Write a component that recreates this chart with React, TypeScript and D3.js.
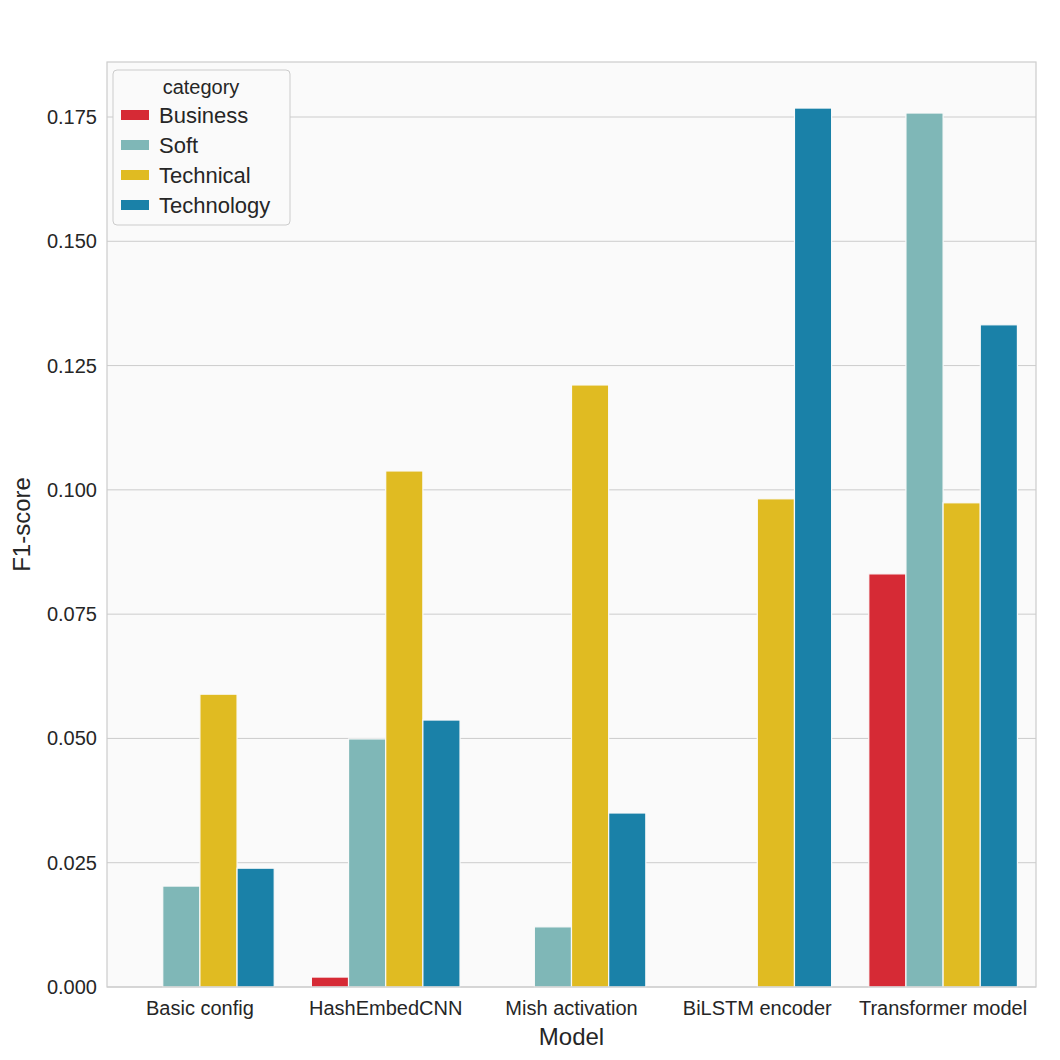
import React from "react";
import * as d3 from "d3";

const models = ["Basic config", "HashEmbedCNN", "Mish activation", "BiLSTM encoder", "Transformer model"];
const categories = ["Business", "Soft", "Technical", "Technology"];
const business = [0, 0.002, 0, 0, 0.0831];
const soft = [0.0203, 0.0499, 0.0121, 0, 0.1758];
const technical = [0.0589, 0.1038, 0.1211, 0.0982, 0.0974];
const technology = [0.0239, 0.0537, 0.035, 0.1768, 0.1332];
const yTicks = [0, 0.025, 0.05, 0.075, 0.1, 0.125, 0.15, 0.175];
const colors = ["#d62a35", "#7fb7b7", "#e0bb22", "#1a81a8"];

export default function App() {
  const W = 1060, H = 1060;
  const L = 107, R = 1036, T = 62, B = 987;
  const series = [business, soft, technical, technology];
  const x = d3.scaleBand().domain(models).range([L, R]).paddingInner(0).paddingOuter(0);
  const inner = d3.scaleBand().domain(categories).range([0, x.bandwidth() * 0.8]);
  const y = d3.scaleLinear().domain([0, 0.175]).range([B, 117]);
  const font = "Liberation Sans, Arial, sans-serif";
  return (
    <svg width={W} height={H} style={{ position: "absolute", left: 0, top: 0 }} fontFamily={font}>
      <rect x={0} y={0} width={W} height={H} fill="#fff" />
      <rect x={L} y={T} width={R - L} height={B - T} fill="#fafafa" />
      {yTicks.map((t) => (
        <g key={t}>
          <line x1={L} x2={R} y1={y(t)} y2={y(t)} stroke="#cccccc" strokeWidth={1} />
          <text x={L - 10} y={y(t)} dy="0.35em" textAnchor="end" fontSize={20} fill="#262626">{t.toFixed(3)}</text>
        </g>
      ))}
      {models.map((m, i) => (
        <g key={m}>
          {series.map((s, j) => {
            const bx = x(m)! + x.bandwidth() * 0.1 + inner(categories[j])!;
            return (
              <rect key={j} x={bx} y={y(s[i])} width={inner.bandwidth()} height={B - y(s[i])}
                fill={colors[j]} stroke="#fafafa" strokeWidth={1.2} />
            );
          })}
          <text x={x(m)! + x.bandwidth() / 2} y={B + 28} textAnchor="middle" fontSize={20} fill="#262626">{m}</text>
        </g>
      ))}
      <rect x={L} y={T} width={R - L} height={B - T} fill="none" stroke="#cccccc" strokeWidth={1.2} />
      <text x={(L + R) / 2} y={1045} textAnchor="middle" fontSize={24} fill="#262626">Model</text>
      <text transform={`translate(30,${(T + B) / 2}) rotate(-90)`} textAnchor="middle" fontSize={24} fill="#262626">F1-score</text>
      <g>
        <rect x={113} y={70} width={177} height={155} rx={4} fill="#fafafa" stroke="#cccccc" />
        <text x={201} y={94} textAnchor="middle" fontSize={20} fill="#262626">category</text>
        {categories.map((c, j) => (
          <g key={c}>
            <rect x={121} y={115 + j * 30 - 5} width={28} height={10} fill={colors[j]} />
            <text x={159} y={115 + j * 30} dy="0.35em" fontSize={22} fill="#262626">{c}</text>
          </g>
        ))}
      </g>
    </svg>
  );
}
